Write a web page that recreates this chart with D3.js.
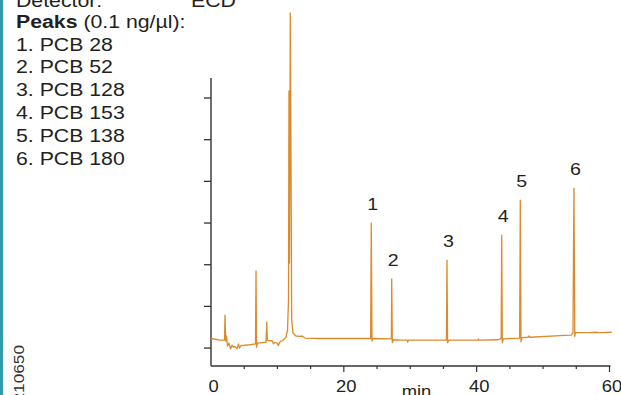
<!DOCTYPE html>
<html>
<head>
<meta charset="utf-8">
<script src="https://cdn.jsdelivr.net/npm/d3@7"></script>
<style>
  body { margin: 0; background: #fff; }
  svg { display: block; }
  text { font-family: "Liberation Sans", Arial, Helvetica, sans-serif; fill: #231f20; }
</style>
</head>
<body>
<div id="chart"></div>
<script>
// chromatogram trace (time in min, signal in tick units)
var times = [0, 1.36, 2.03, 2.11, 2.21, 2.33, 2.48, 2.71, 2.94, 3.16, 3.39, 3.61, 3.91, 4.14, 4.29, 4.52,
  5.87, 6.70, 6.78, 6.85, 7.00, 7.68, 8.28, 8.39, 8.48, 8.88, 9.18, 9.41, 9.64, 9.94, 10.16, 10.31,
  10.84, 11.29, 11.52, 11.67, 11.74, 11.82, 11.94, 12.04, 12.15, 12.35, 12.80, 13.40, 13.70, 14.15,
  16.41, 20.93, 24.04, 24.13, 24.24, 24.39, 27.16, 27.21, 27.30, 27.48, 28.46, 29.56, 29.62, 29.69,
  35.45, 35.53, 35.62, 35.83, 40.20, 40.27, 40.35, 43.21, 43.51, 43.69, 43.77, 43.86, 44.04,
  46.47, 46.57, 46.67, 46.82, 47.73, 47.88, 48.03, 52.54, 54.20, 54.50, 54.65, 54.77, 54.87,
  57.06, 57.81, 58.57, 60.33];
var signal = [0.23, 0.19, 0.19, 0.79, 0.17, 0.29, 0.05, 0.12, -0.02, 0.07, 0.02, 0.04, -0.02, 0.10, 0.00, 0.06,
  0.08, 0.10, 1.85, 0.02, 0.12, 0.13, 0.14, 0.62, 0.19, 0.17, 0.18, 0.10, 0.14, 0.12, 0.06, 0.14,
  0.19, 0.26, 0.43, 1.15, 6.17, 2.04, 8.04, 4.75, 0.67, 0.36, 0.29, 0.28, 0.29, 0.24,
  0.23, 0.23, 0.23, 3.00, 0.17, 0.23, 0.22, 1.66, 0.13, 0.20, 0.19, 0.19, 0.14, 0.19,
  0.19, 2.11, 0.13, 0.19, 0.19, 0.22, 0.19, 0.20, 0.22, 0.22, 2.71, 0.13, 0.22,
  0.24, 3.55, 0.15, 0.25, 0.26, 0.29, 0.26, 0.30, 0.31, 0.36, 3.84, 0.28, 0.37,
  0.37, 0.38, 0.37, 0.38];

var peakLabels = ["1", "2", "3", "4", "5", "6"];
var peakTimes = [24.13, 27.21, 35.53, 43.77, 46.57, 54.65];
var peakHeights = [3.00, 1.66, 2.11, 2.71, 3.55, 3.84];

var legendTitle = "Peaks";
var legendUnit = " (0.1 ng/µl):";
var legendRows = ["1. PCB 28", "2. PCB 52", "3. PCB 128", "4. PCB 153", "5. PCB 138", "6. PCB 180"];

var xMajor = [0, 20, 40, 60];
var xMinor = [5, 10, 15, 25, 30, 35, 45, 50, 55];
var yTicks = [0, 1, 2, 3, 4, 5, 6];
var xMin = 0, xMax = 60;
var yMin = -0.43, yMax = 6.48;

var width = 621, height = 395;
var STRETCH = 1.15;   // the source picture is a bit wide

var svg = d3.select("#chart").append("svg")
  .attr("width", width)
  .attr("height", height)

var x = d3.scaleLinear().domain([xMin, xMax]).range([211, 609.5]);
var y = d3.scaleLinear().domain([yMin, yMax]).range([366, 78]);

function stretched(sel, px, py) {
  return sel.attr("transform", "translate(" + px + "," + py + ") scale(" + STRETCH + ",1)")
}

// teal edge
svg.append("rect")
  .attr("x", 0).attr("y", 0)
  .attr("width", 3).attr("height", height)
  .attr("fill", "#2f9ca8")

// left text block
stretched(svg.append("text").style("font-size", "18.5px").text("Detector:"), 16, 7)
stretched(svg.append("text").style("font-size", "18.5px").text("ECD"), 191, 7)

var head = stretched(svg.append("text").style("font-size", "18.5px"), 16, 27.5)
head.append("tspan").style("font-weight", "bold").text(legendTitle)
head.append("tspan").text(legendUnit)

legendRows.forEach(function(r, i){
  stretched(svg.append("text").style("font-size", "18.5px").text(r), 16, 50.5 + i * 22.85)
})

// code number, vertical
svg.append("text")
  .attr("transform", "translate(24,345) rotate(-90) scale(" + STRETCH + ",1)")
  .attr("text-anchor", "end")
  .style("font-size", "15px")
  .style("fill", "#333")
  .text("210650")

// axes
var axisColor = "#333";

svg.append("line")
  .attr("x1", x(xMin)).attr("x2", x(xMin))
  .attr("y1", y(yMax)).attr("y2", y(yMin))
  .attr("stroke", axisColor).attr("stroke-width", 1.4)

svg.append("line")
  .attr("x1", x(xMin)).attr("x2", x(xMax) + 1)
  .attr("y1", y(yMin)).attr("y2", y(yMin))
  .attr("stroke", axisColor).attr("stroke-width", 1.4)

svg.selectAll(".ytick")
  .data(yTicks)
  .enter().append("line")
    .attr("class", "ytick")
    .attr("x1", x(xMin) - 7).attr("x2", x(xMin))
    .attr("y1", function(d){ return y(d) })
    .attr("y2", function(d){ return y(d) })
    .attr("stroke", axisColor).attr("stroke-width", 1.3)

svg.selectAll(".xminor")
  .data(xMinor)
  .enter().append("line")
    .attr("class", "xminor")
    .attr("x1", function(d){ return x(d) }).attr("x2", function(d){ return x(d) })
    .attr("y1", y(yMin)).attr("y2", y(yMin) + 3)
    .attr("stroke", axisColor).attr("stroke-width", 1.2)

svg.selectAll(".xmajor")
  .data(xMajor.filter(function(d){ return d != xMin }))
  .enter().append("line")
    .attr("class", "xmajor")
    .attr("x1", function(d){ return x(d) }).attr("x2", function(d){ return x(d) })
    .attr("y1", y(yMin)).attr("y2", y(yMin) + 6)
    .attr("stroke", axisColor).attr("stroke-width", 1.2)

xMajor.forEach(function(d){
  stretched(svg.append("text")
    .attr("text-anchor", "middle")
    .style("font-size", "16px")
    .text(d), x(d) + 2.5, 392)
})

stretched(svg.append("text")
  .attr("text-anchor", "middle")
  .style("font-size", "16px")
  .text("min"), 416.5, 397)

// trace
var line = d3.line()
  .x(function(d){ return x(d[0]) })
  .y(function(d){ return y(d[1]) })

svg.append("path")
  .datum(d3.zip(times, signal))
  .attr("d", line)
  .attr("fill", "none")
  .attr("stroke", "#dc8a2c")
  .attr("stroke-width", 1.3)
  .attr("stroke-linejoin", "round")

// peak numbers
peakLabels.forEach(function(l, i){
  stretched(svg.append("text")
    .attr("text-anchor", "middle")
    .style("font-size", "17px")
    .text(l), x(peakTimes[i]) + 1.5, y(peakHeights[i]) - 13)
})
</script>
</body>
</html>
